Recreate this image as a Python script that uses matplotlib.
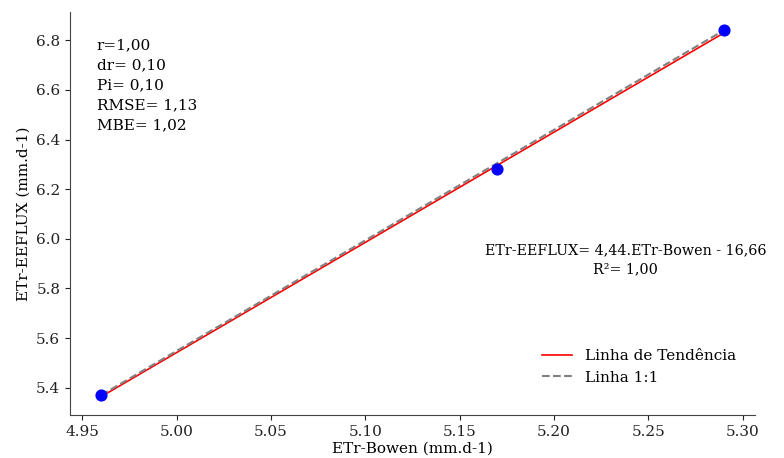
import matplotlib
matplotlib.use("Agg")
import matplotlib.pyplot as plt
import numpy as np

x_bowen = [4.96, 5.17, 5.29]
y_eeflux = [5.37, 6.28, 6.84]

stats_text = "r=1,00\ndr= 0,10\nPi= 0,10\nRMSE= 1,13\nMBE= 1,02"
eq_text = "ETr-EEFLUX= 4,44.ETr-Bowen - 16,66\nR²= 1,00"

plt.rcParams['font.family'] = ['DejaVu Serif']
plt.rcParams['font.size'] = 11

fig = plt.figure(figsize=(7.84, 4.58), dpi=100)
ax = fig.add_axes([70/784, 1-415/458, 685/784, 403/458])

x = np.array(x_bowen)
y = np.array(y_eeflux)
m, b = np.polyfit(x, y, 1)

ax.scatter(x, y, color='blue', s=60, zorder=3)
ax.plot(x, m*x + b, color='red', lw=1.2, label='Linha de Tendência', zorder=2)
ax.plot([x[0], x[-1]], [y[0], y[-1]], color='gray', ls='--', lw=1.5, label='Linha 1:1', zorder=2)

ax.spines['top'].set_visible(False)
ax.spines['right'].set_visible(False)
for s in ['left', 'bottom']:
    ax.spines[s].set_color('#444444')
ax.tick_params(colors='#222222')

ax.set_xlabel('ETr-Bowen (mm.d-1)', labelpad=2)
ax.set_ylabel('ETr-EEFLUX (mm.d-1)')

ax.text(0.039, 0.935, stats_text, transform=ax.transAxes, va='top', ha='left', linespacing=1.55)
ax.text(0.811, 0.385, eq_text, transform=ax.transAxes, va='center', ha='center', linespacing=1.45, fontsize=10.3)

ax.legend(loc='lower left', bbox_to_anchor=(0.68, 0.06), frameon=False, borderaxespad=0)

fig.savefig('out.png', dpi=100)
